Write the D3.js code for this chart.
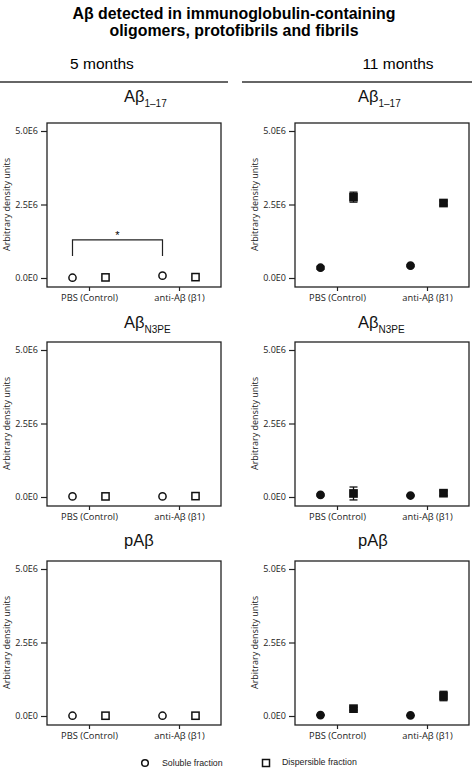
<!DOCTYPE html>
<html><head><meta charset="utf-8">
<script src="https://cdn.jsdelivr.net/npm/d3@7"></script>
<style>body{margin:0;background:#fff}svg{display:block}</style>
</head><body>
<svg id="c" width="472" height="768"></svg>
<script>
const groups = ["PBS (Control)", "anti-Aβ (β1)"];
const series = ["Soluble fraction", "Dispersible fraction"];
const yTicks = [0, 2.5e6, 5e6];
const yTickLabels = ["0.0E0", "2.5E6", "5.0E6"];
const panelTitles = [["Aβ", "1–17"], ["Aβ", "N3PE"], ["pAβ", ""]];
const ages = ["5 months", "11 months"];
// values: [[soluble PBS, soluble anti], [dispersible PBS, dispersible anti]]
const mean5_A117 = [[0.01e6, 0.08e6], [0.02e6, 0.03e6]];
const err5_A117 = [[0, 0], [0, 0]];
const mean5_N3PE = [[0.02e6, 0.02e6], [0.02e6, 0.03e6]];
const err5_N3PE = [[0, 0], [0, 0]];
const mean5_pAb = [[0.01e6, 0.01e6], [0.01e6, 0.01e6]];
const err5_pAb = [[0, 0], [0, 0]];
const mean11_A117 = [[0.35e6, 0.42e6], [2.75e6, 2.55e6]];
const err11_A117 = [[0.05e6, 0.03e6], [0.17e6, 0.07e6]];
const mean11_N3PE = [[0.07e6, 0.05e6], [0.12e6, 0.13e6]];
const err11_N3PE = [[0.03e6, 0.02e6], [0.22e6, 0.08e6]];
const mean11_pAb = [[0.03e6, 0.02e6], [0.25e6, 0.68e6]];
const err11_pAb = [[0.01e6, 0.01e6], [0.05e6, 0.16e6]];
const sigBracket = {from: 0, to: 1, top: 1.3e6, bottom: 0.75e6, label: "*"};

const means = [[mean5_A117, mean5_N3PE, mean5_pAb], [mean11_A117, mean11_N3PE, mean11_pAb]];
const errs = [[err5_A117, err5_N3PE, err5_pAb], [err11_A117, err11_N3PE, err11_pAb]];

const svg = d3.select("#c");
const sans = "'Liberation Sans', Arial, sans-serif";
const tickFont = "'Open Sans', 'Liberation Sans', sans-serif";

// Main title
svg.append("text").attr("x", 234).attr("y", 18.5).attr("text-anchor", "middle")
  .attr("font-family", sans).attr("font-weight", "bold").attr("font-size", 15.9)
  .text("Aβ detected in immunoglobulin-containing");
svg.append("text").attr("x", 234).attr("y", 35.5).attr("text-anchor", "middle")
  .attr("font-family", sans).attr("font-weight", "bold").attr("font-size", 15.9)
  .text("oligomers, protofibrils and fibrils");

const colLeft = [47, 295], colRight = [221, 469];
const ageX = [102, 398];
const ruleX = [[0, 228], [242, 472]];
const rowTop = [123, 342, 561];
const titleGap = [21, 14, 15];
const titleX = [124, 358];

ages.forEach((a, ci) => {
  svg.append("text").attr("x", ageX[ci]).attr("y", 69).attr("text-anchor", "middle")
    .attr("font-family", sans).attr("font-size", 15.5).text(a);
  svg.append("line").attr("x1", ruleX[ci][0]).attr("x2", ruleX[ci][1]).attr("y1", 82).attr("y2", 82)
    .attr("stroke", "#333").attr("stroke-width", 1.5);
});

for (let ci = 0; ci < 2; ci++) {
  for (let ri = 0; ri < 3; ri++) {
    const x0 = colLeft[ci], x1 = colRight[ci], top = rowTop[ri];
    const g = svg.append("g");
    const y = d3.scaleLinear().domain([0, 5e6]).range([top + 155, top + 8]);
    const x = d3.scalePoint().domain(groups).range([x0 + 42, x0 + 132]);
    const off = d3.scalePoint().domain(series).range([-16.5, 16.5]);
    const bottom = top + 164;

    // panel title
    const t = g.append("text").attr("x", titleX[ci]).attr("y", top - titleGap[ri])
      .attr("font-family", sans).attr("font-size", 16.5).attr("fill", "#111");
    t.append("tspan").text(panelTitles[ri][0]);
    if (panelTitles[ri][1]) t.append("tspan").attr("dy", 5).attr("font-size", 10).text(panelTitles[ri][1]);

    // frame
    g.append("rect").attr("x", x0).attr("y", top).attr("width", x1 - x0).attr("height", bottom - top)
      .attr("fill", "none").attr("stroke", "#222").attr("stroke-width", 1.3);

    // y axis
    const ya = g.append("g").attr("transform", `translate(${x0},0)`)
      .call(d3.axisLeft(y).tickValues(yTicks).tickSize(6).tickPadding(3)
        .tickFormat((d, i) => yTickLabels[i]));
    ya.select(".domain").remove();
    ya.selectAll("text").attr("font-family", tickFont).attr("font-size", 9).attr("fill", "#222");
    ya.selectAll("line").attr("stroke", "#222").attr("stroke-width", 1.2);

    // x axis
    const xa = g.append("g").attr("transform", `translate(0,${bottom})`)
      .call(d3.axisBottom(x).tickSize(4).tickPadding(3));
    xa.select(".domain").remove();
    xa.selectAll("text").attr("font-family", tickFont).attr("font-size", 9.3).attr("fill", "#222");
    xa.selectAll("line").attr("stroke", "#222").attr("stroke-width", 1.2);

    // y title
    g.append("text").attr("transform", `translate(${x0 - 37},${(y(0) + y(5e6)) / 2}) rotate(-90)`)
      .attr("text-anchor", "middle").attr("font-family", tickFont).attr("font-size", 9).attr("fill", "#222")
      .text("Arbitrary density units");

    const m = means[ci][ri], e = errs[ci][ri];
    const fill = ci === 0 ? "#fff" : "#111";
    series.forEach((s, si) => {
      groups.forEach((gr, gi) => {
        const cx = x(gr) + off(s), v = m[si][gi], er = e[si][gi];
        if (er > 0) {
          const eg = g.append("g").attr("stroke", "#111").attr("stroke-width", 1.3);
          eg.append("line").attr("x1", cx).attr("x2", cx).attr("y1", y(v - er)).attr("y2", y(v + er));
          eg.append("line").attr("x1", cx - 4).attr("x2", cx + 4).attr("y1", y(v - er)).attr("y2", y(v - er));
          eg.append("line").attr("x1", cx - 4).attr("x2", cx + 4).attr("y1", y(v + er)).attr("y2", y(v + er));
        }
        if (si === 0) {
          g.append("circle").attr("cx", cx).attr("cy", y(v)).attr("r", 3.6)
            .attr("fill", fill).attr("stroke", "#111").attr("stroke-width", 1.5);
        } else {
          g.append("rect").attr("x", cx - 3.6).attr("y", y(v) - 3.6).attr("width", 7.2).attr("height", 7.2)
            .attr("fill", fill).attr("stroke", "#111").attr("stroke-width", 1.5);
        }
      });
    });

    if (ci === 0 && ri === 0) {
      const bx1 = x(groups[sigBracket.from]) + off(series[0]);
      const bx2 = x(groups[sigBracket.to]) + off(series[0]);
      const yt = y(sigBracket.top), yb = y(sigBracket.bottom);
      g.append("path").attr("d", `M${bx1},${yb}V${yt}H${bx2}V${yb}`)
        .attr("fill", "none").attr("stroke", "#222").attr("stroke-width", 1.2);
      g.append("text").attr("x", (bx1 + bx2) / 2).attr("y", yt - 1).attr("text-anchor", "middle")
        .attr("font-family", sans).attr("font-size", 11).text(sigBracket.label);
    }
  }
}

// legend
const leg = svg.append("g");
leg.append("circle").attr("cx", 145).attr("cy", 763).attr("r", 3.3)
  .attr("fill", "#fff").attr("stroke", "#111").attr("stroke-width", 1.5);
leg.append("text").attr("x", 162).attr("y", 766).attr("font-family", sans).attr("font-size", 8.8)
  .attr("fill", "#222").text(series[0]);
leg.append("rect").attr("x", 262.5).attr("y", 759.5).attr("width", 7).attr("height", 7)
  .attr("fill", "#fff").attr("stroke", "#111").attr("stroke-width", 1.5);
leg.append("text").attr("x", 282).attr("y", 764.5).attr("font-family", sans).attr("font-size", 8.8)
  .attr("fill", "#222").text(series[1]);
</script>
</body></html>
